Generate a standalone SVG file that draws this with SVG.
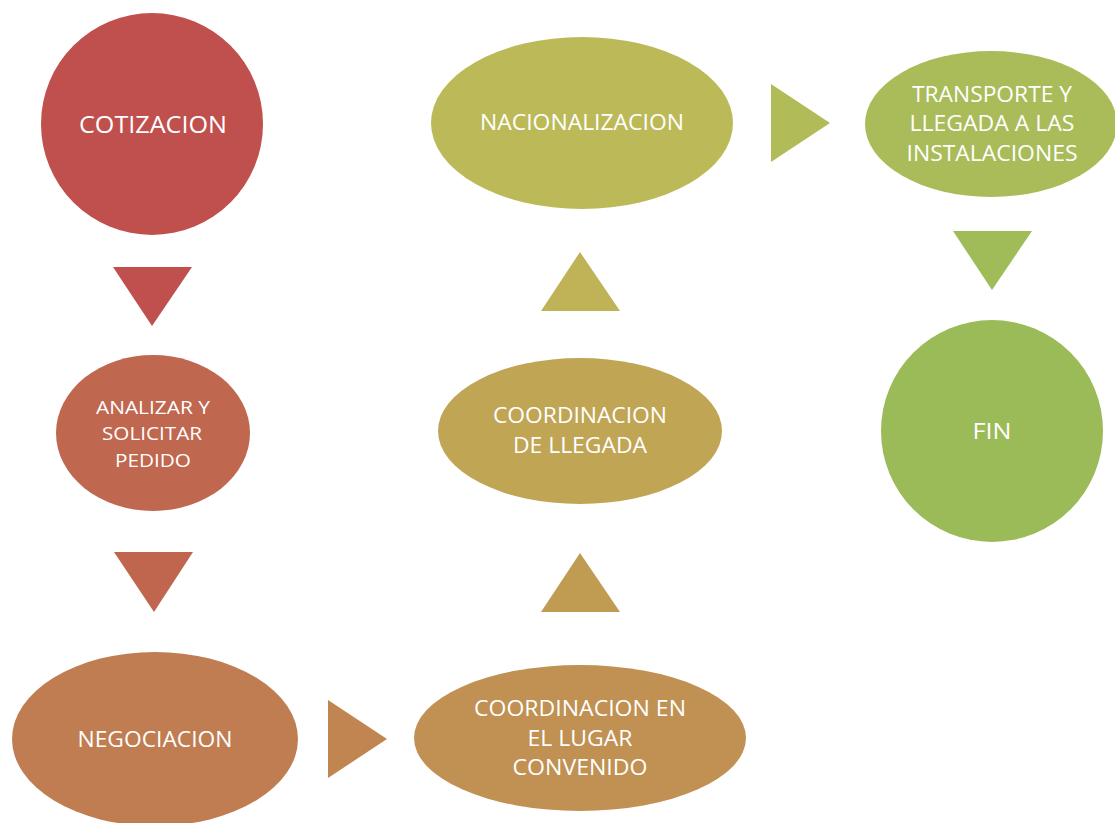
<svg xmlns="http://www.w3.org/2000/svg" width="1115" height="823" viewBox="0 0 1115 823">
<style>
text{font-family:"Open Sans","Noto Sans","Liberation Sans",sans-serif;fill:#ffffff;text-anchor:middle;font-size:21px}
.big{font-size:24px}
.sm{font-size:18.5px}
</style>
<rect width="1115" height="823" fill="#ffffff"/>
<g id="connectors">
<polygon points="113,267 192,267 152,326" fill="#C0504D"/>
<polygon points="114,552 193,552 154,612" fill="#C0664F"/>
<polygon points="328,700 328,778 387,739" fill="#C08551"/>
<polygon points="541,612 620,612 580,553" fill="#C09C53"/>
<polygon points="541,311 620,311 580,252" fill="#BFB257"/>
<polygon points="771,84 771,162 830,123" fill="#B1BC59"/>
<polygon points="953,231 1032,231 992,290" fill="#9FBC59"/>
</g>
<g id="cotizacion">
<circle cx="152" cy="124" r="111" fill="#C0504D"/>
<text class="big" x="153" y="133" textLength="148" lengthAdjust="spacingAndGlyphs">COTIZACION</text>
</g>
<g id="analizar">
<ellipse cx="153" cy="433" rx="97" ry="78" fill="#C0674F"/>
<text class="sm" x="153" y="414" textLength="114" lengthAdjust="spacingAndGlyphs">ANALIZAR Y</text>
<text class="sm" x="152" y="440" textLength="100" lengthAdjust="spacingAndGlyphs">SOLICITAR</text>
<text class="sm" x="153" y="467" textLength="76" lengthAdjust="spacingAndGlyphs">PEDIDO</text>
</g>
<g id="negociacion">
<ellipse cx="155" cy="739" rx="143" ry="87" fill="#C07D52"/>
<text x="155" y="747" textLength="155" lengthAdjust="spacingAndGlyphs">NEGOCIACION</text>
</g>
<g id="coordinacion-lugar">
<ellipse cx="580" cy="738" rx="166" ry="73" fill="#C09153"/>
<text x="580" y="716" textLength="212" lengthAdjust="spacingAndGlyphs">COORDINACION EN</text>
<text x="580" y="746" textLength="105" lengthAdjust="spacingAndGlyphs">EL LUGAR</text>
<text x="580" y="775" textLength="135" lengthAdjust="spacingAndGlyphs">CONVENIDO</text>
</g>
<g id="coordinacion-llegada">
<ellipse cx="580" cy="431" rx="142" ry="73" fill="#C0A555"/>
<text x="580" y="423" textLength="174" lengthAdjust="spacingAndGlyphs">COORDINACION</text>
<text x="580" y="453" textLength="134" lengthAdjust="spacingAndGlyphs">DE LLEGADA</text>
</g>
<g id="nacionalizacion">
<ellipse cx="582" cy="123" rx="151" ry="86" fill="#BCBA58"/>
<text x="582" y="130" textLength="204" lengthAdjust="spacingAndGlyphs">NACIONALIZACION</text>
</g>
<g id="transporte">
<ellipse cx="991" cy="124" rx="126" ry="73" fill="#A9BC59"/>
<text x="992" y="102" textLength="160" lengthAdjust="spacingAndGlyphs">TRANSPORTE Y</text>
<text x="992" y="131" textLength="165" lengthAdjust="spacingAndGlyphs">LLEGADA A LAS</text>
<text x="992" y="161" textLength="171" lengthAdjust="spacingAndGlyphs">INSTALACIONES</text>
</g>
<g id="fin">
<ellipse cx="992" cy="431" rx="111" ry="111" fill="#9BBB59"/>
<text x="992" y="439" textLength="39" lengthAdjust="spacingAndGlyphs">FIN</text>
</g>
</svg>
